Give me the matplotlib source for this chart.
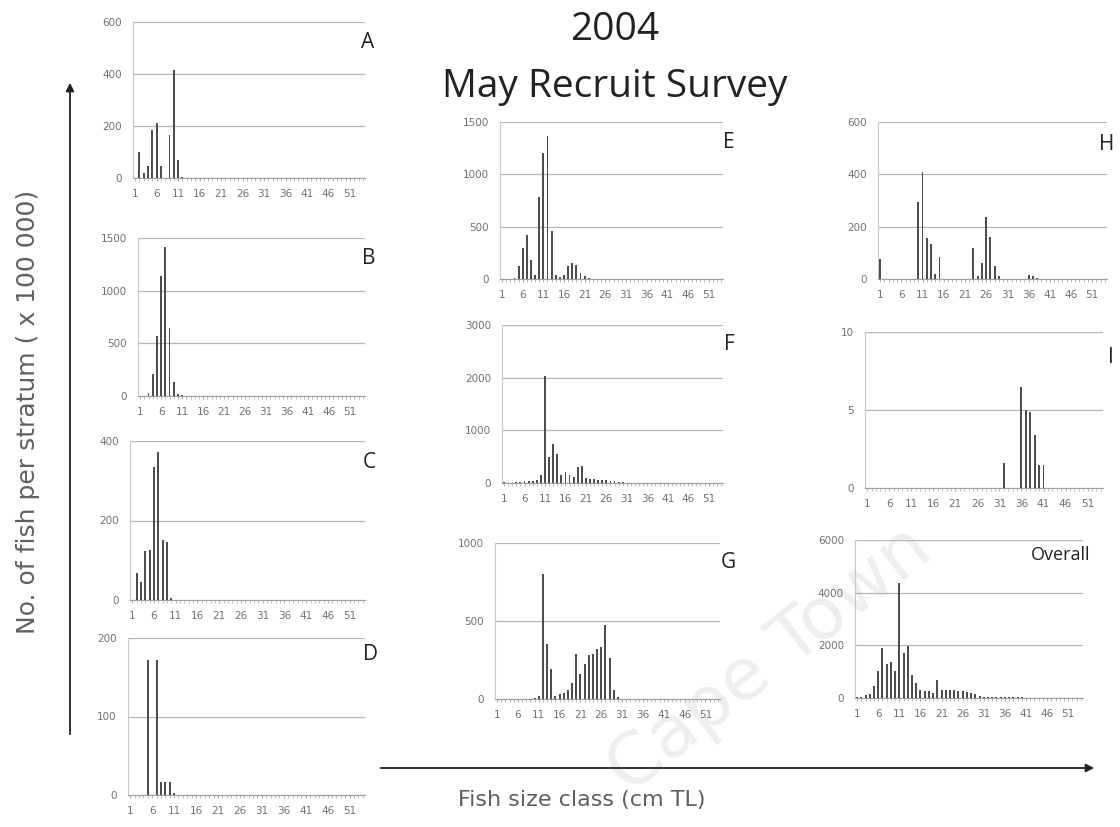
import matplotlib.pyplot as plt
import numpy as np

# size classes (cm TL) and counts per stratum (x 100 000)
tick_sizes = [1, 6, 11, 16, 21, 26, 31, 36, 41, 46, 51]

a_cls = [2, 3, 4, 5, 6, 7, 9, 10, 11, 12]
a_val = [100, 20, 45, 185, 210, 45, 165, 415, 70, 5]

b_cls = [3, 4, 5, 6, 7, 8, 9, 10, 11]
b_val = [25, 210, 570, 1135, 1415, 650, 135, 20, 5]

c_cls = [2, 3, 4, 5, 6, 7, 8, 9, 10]
c_val = [67, 46, 123, 125, 335, 372, 150, 145, 5]

d_cls = [5, 7, 8, 9, 10, 11]
d_val = [172, 172, 16, 16, 16, 3]

e_cls = [4, 5, 6, 7, 8, 9, 10, 11, 12, 13, 14, 15, 16, 17, 18, 19, 20, 21, 22]
e_val = [10, 120, 295, 420, 185, 40, 780, 1200, 1370, 455, 40, 20, 40, 120, 150, 135, 55, 25, 10]

f_cls = [1, 4, 5, 6, 7, 8, 9, 10, 11, 12, 13, 14, 15, 16, 17, 18, 19, 20, 21, 22,
         23, 24, 25, 26, 27, 28, 29, 30]
f_val = [10, 10, 20, 30, 30, 40, 50, 150, 2030, 500, 750, 560, 150, 210, 150, 120, 300, 315, 100, 80,
         70, 60, 60, 50, 40, 30, 20, 10]

g_cls = [10, 11, 12, 13, 14, 15, 16, 17, 18, 19, 20, 21, 22, 23, 24, 25, 26, 27, 28, 29, 30]
g_val = [5, 20, 800, 355, 195, 20, 30, 40, 60, 100, 290, 160, 225, 280, 290, 320, 335, 475, 260, 55, 10]

h_cls = [1, 10, 11, 12, 13, 14, 15, 23, 24, 25, 26, 27, 28, 29, 36, 37, 38]
h_val = [75, 295, 410, 155, 135, 20, 85, 120, 10, 60, 238, 160, 50, 10, 15, 10, 5]

i_cls = [32, 36, 37, 38, 39, 40, 41]
i_val = [1.6, 6.5, 5.0, 4.9, 3.4, 1.5, 1.5]

o_cls = list(range(1, 41))
o_val = [20, 30, 125, 150, 450, 1010, 1900, 1300, 1350, 1010, 4360, 1700, 1960, 885, 570, 315,
         250, 250, 200, 695, 315, 315, 300, 315, 250, 250, 230, 200, 150, 80, 40, 40, 30, 30, 30,
         30, 20, 20, 20, 20]

W, H = 1120, 827
fig = plt.figure(figsize=(11.2, 8.27), dpi=100)


def fx(x):
    return x / W


def fy(y):
    return 1 - y / H


# faint watermark behind everything
fig.text(fx(770), fy(660), 'Cape Town', fontsize=52, color='#eeeeee', rotation=38,
         ha='center', va='center', zorder=-5)


def panel(box, cls, vals, ymax, ystep, label, lpos):
    x0, x1, ytop, ybot = box
    ax = fig.add_axes([fx(x0), fy(ybot), (x1 - x0) / W, (ybot - ytop) / H])
    ax.patch.set_alpha(0)
    ax.bar(cls, vals, width=0.45, color='#4d4d4d', linewidth=0, zorder=3)
    ax.set_xlim(0.5, 54.5)
    ax.set_ylim(0, ymax)
    ax.set_yticks(np.arange(0, ymax + ystep / 2, ystep))
    ax.set_xticks(tick_sizes)
    ax.set_xticks(np.arange(1, 55), minor=True)
    ax.yaxis.grid(True, color='#b5b5b5', lw=0.9, zorder=0)
    ax.set_axisbelow(True)
    for s in ['top', 'right']:
        ax.spines[s].set_visible(False)
    ax.spines['left'].set_color('#c8c8c8')
    ax.spines['bottom'].set_color('#a0a0a0')
    ax.spines['left'].set_linewidth(0.8)
    ax.spines['bottom'].set_linewidth(0.8)
    ax.tick_params(axis='both', labelsize=7.5, colors='#707070', length=0, pad=8)
    ax.tick_params(axis='x', which='both', length=2, color='#b0b0b0', pad=6)
    fig.text(fx(lpos[0]), fy(lpos[1]), label, fontsize=15 if len(label) == 1 else 13,
             family='Open Sans', color='#222222', ha='right', va='center')
    return ax


panel((133, 365, 22, 178), a_cls, a_val, 600, 200, 'A', (374, 42))
panel((138, 365, 238, 396), b_cls, b_val, 1500, 500, 'B', (375, 258))
panel((130, 365, 441, 600), c_cls, c_val, 400, 200, 'C', (376, 463))
panel((128, 365, 638, 795), d_cls, d_val, 200, 100, 'D', (378, 655))
panel((500, 723, 122, 279), e_cls, e_val, 1500, 500, 'E', (735, 142))
panel((502, 723, 325, 483), f_cls, f_val, 3000, 1000, 'F', (735, 345))
panel((495, 720, 543, 699), g_cls, g_val, 1000, 500, 'G', (736, 563))
panel((878, 1107, 122, 279), h_cls, h_val, 600, 200, 'H', (1114, 144))
panel((865, 1103, 332, 488), i_cls, i_val, 10, 5, 'I', (1114, 358))
panel((855, 1083, 540, 698), o_cls, o_val, 6000, 2000, 'Overall', (1090, 555))

# title
fig.text(fx(615), fy(30), '2004', fontsize=28, family='Open Sans', color='#222222',
         ha='center', va='center')
fig.text(fx(615), fy(87), 'May Recruit Survey', fontsize=28, family='Open Sans',
         color='#222222', ha='center', va='center')

# axis titles and arrows
fig.text(fx(28), fy(412), 'No. of fish per stratum ( x 100 000)', rotation=90, fontsize=18,
         color='#606060', ha='center', va='center')
fig.text(fx(582), fy(800), 'Fish size class (cm TL)', fontsize=16, color='#606060',
         ha='center', va='center')
plt.annotate('', xy=(fx(70), fy(80)), xytext=(fx(70), fy(737)), xycoords='figure fraction',
             arrowprops=dict(arrowstyle='-|>', color='#222222', lw=1.3, mutation_scale=12))
plt.annotate('', xy=(fx(1097), fy(768)), xytext=(fx(378), fy(768)), xycoords='figure fraction',
             arrowprops=dict(arrowstyle='-|>', color='#222222', lw=1.3, mutation_scale=12))

plt.savefig('out.png', dpi=100)
